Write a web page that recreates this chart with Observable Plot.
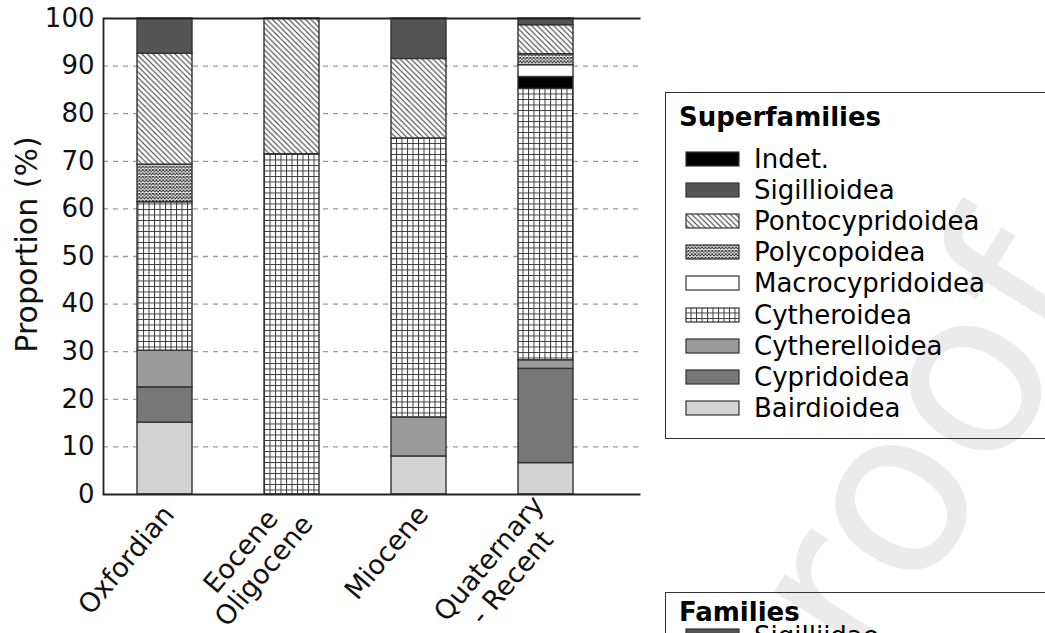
<!DOCTYPE html>
<html>
<head>
<meta charset="utf-8">
<script src="https://cdn.jsdelivr.net/npm/d3@7"></script>
<script src="https://cdn.jsdelivr.net/npm/@observablehq/plot@0.6"></script>
<style>
html, body { margin: 0; padding: 0; background: #fff; overflow: hidden; width: 1045px; height: 633px; }
#wrap { position: relative; width: 1045px; height: 633px; font-family: "DejaVu Sans", Verdana, sans-serif; overflow: hidden; }
#wm { position: absolute; left: 0; top: 0; z-index: 0; }
#chart { position: absolute; left: 0; top: 0; z-index: 1; }
.box { position: absolute; left: 665px; width: 420px; border: 1.5px solid #333; box-sizing: border-box; z-index: 2; }
.title { position: absolute; left: 13px; font-weight: bold; font-size: 26px; line-height: 32px; white-space: nowrap; }
.row { position: absolute; left: 0; height: 31px; width: 400px; }
.row svg { position: absolute; left: 19px; }
.row span { position: absolute; left: 88px; font-size: 26px; line-height: 31px; top: 0; white-space: nowrap; }
#defs { position: absolute; width: 0; height: 0; }
</style>
</head>
<body>
<div id="wrap">
<svg id="defs" width="0" height="0">
  <defs>
    <pattern id="pat-ponto" patternUnits="userSpaceOnUse" width="5.5" height="5.5">
      <rect width="5.5" height="5.5" fill="#fff"/>
      <path d="M-1,-1 L6.5,6.5 M-1,4.5 L1,6.5 M4.5,-1 L6.5,1" stroke="#333" stroke-width="1"/>
    </pattern>
    <pattern id="pat-grid" patternUnits="userSpaceOnUse" width="5.5" height="5.5">
      <rect width="5.5" height="5.5" fill="#fff"/>
      <path d="M0,0.5 L5.5,0.5 M0.5,0 L0.5,5.5" stroke="#3a3a3a" stroke-width="1"/>
    </pattern>
    <pattern id="pat-poly" patternUnits="userSpaceOnUse" width="3.4" height="3.4">
      <rect width="3.4" height="3.4" fill="#fff"/>
      <path d="M0,0 L3.4,3.4 M3.4,0 L0,3.4" stroke="#333" stroke-width="1"/>
    </pattern>
  </defs>
</svg>
<svg id="wm" width="1045" height="633"></svg>
<div id="chart"></div>
<div class="box" id="legend1" style="top:91.5px; height:347px;"></div>
<div class="box" id="legend2" style="top:592px; height:120px;"></div>
</div>
<script>
// ---- data ----
const categories = ["Oxfordian", "Eocene\nOligocene", "Miocene", "Quaternary\n- Recent"];
const superfamilies = ["Bairdioidea", "Cypridoidea", "Cytherelloidea", "Cytheroidea", "Indet.", "Macrocypridoidea", "Polycopoidea", "Pontocypridoidea", "Sigillioidea"];
const oxfordian        = [15.1, 7.4, 7.7, 31.2, 0,   0,   7.9, 23.3, 7.4];
const eoceneOligocene  = [0,    0,   0,   71.5, 0,   0,   0,   28.5, 0];
const miocene          = [8.0,  0,   8.2, 58.6, 0,   0,   0,   16.7, 8.5];
const quaternaryRecent = [6.6, 19.8, 1.8, 57.0, 2.5, 2.5, 2.3, 6.1,  1.4];
const yTicks = [0, 10, 20, 30, 40, 50, 60, 70, 80, 90, 100];
const legendOrder = ["Indet.", "Sigillioidea", "Pontocypridoidea", "Polycopoidea", "Macrocypridoidea", "Cytheroidea", "Cytherelloidea", "Cypridoidea", "Bairdioidea"];
const familiesTitle = "Families";
const familiesFirst = "Sigilliidae";

// ---- styles ----
const fillOf = {
  "Bairdioidea": "#d3d3d3",
  "Cypridoidea": "#777777",
  "Cytherelloidea": "#9b9b9b",
  "Cytheroidea": "url(#pat-grid)",
  "Indet.": "#000000",
  "Macrocypridoidea": "#ffffff",
  "Polycopoidea": "url(#pat-poly)",
  "Pontocypridoidea": "url(#pat-ponto)",
  "Sigillioidea": "#555555"
};
const FONT = '"DejaVu Sans", Verdana, sans-serif';

const columns = [oxfordian, eoceneOligocene, miocene, quaternaryRecent];
const table = [];
categories.forEach((c, i) => {
  superfamilies.forEach((s, j) => {
    const v = columns[i][j];
    if (v > 0) table.push({category: c, series: s, value: v});
  });
});

const W = 1045, H = 633, ML = 103, MR = 405, MT = 18, MB = 139;
const fw = W - ML - MR, fh = H - MT - MB;

// rotated, centre-aligned multi-line category labels
const ROT = -50, LH = 30, XFS = 27, AX = 4, AY = 15;
const rad = -ROT * Math.PI / 180;
const dir = [Math.cos(rad), -Math.sin(rad)];   // along text
const down = [Math.sin(rad), Math.cos(rad)];   // perpendicular, toward following lines
const ctx = document.createElement("canvas").getContext("2d");
ctx.font = `${XFS}px ${FONT}`;
const labelMarks = [];
categories.forEach(c => {
  const lines = c.split("\n");
  const wmax = Math.max(...lines.map(l => ctx.measureText(l).width));
  lines.forEach((l, i) => {
    const k = i - (lines.length - 1) / 2;
    const ox = AX - (wmax / 2) * dir[0] + k * LH * down[0];
    const oy = AY - (wmax / 2) * dir[1] + k * LH * down[1];
    labelMarks.push(Plot.text([c], {x: d => d, text: () => l, frameAnchor: "bottom", rotate: ROT, textAnchor: "middle", lineAnchor: "middle", dx: ox, dy: oy, fontSize: XFS}));
  });
});

const chart = Plot.plot({
  width: W, height: H,
  marginLeft: ML, marginRight: MR, marginTop: MT, marginBottom: MB,
  style: {fontFamily: FONT, fontSize: "26px", color: "#111", background: "transparent"},
  x: {type: "band", domain: categories, paddingInner: 0.568, paddingOuter: 0.393, align: 0.34, label: null, axis: null},
  y: {domain: [0, 100], label: null},
  color: {type: "ordinal", domain: superfamilies, range: superfamilies.map(s => fillOf[s])},
  marks: [
    Plot.gridY(yTicks.filter(t => t > 0 && t < 100), {stroke: "#9a9a9a", strokeOpacity: 1, strokeWidth: 1.3, strokeDasharray: "5,5"}),
    Plot.barY(table, Plot.stackY({x: "category", y: "value", z: "series", fill: "series", order: superfamilies, stroke: "#333", strokeWidth: 1.4})),
    Plot.frame({stroke: "#222", strokeWidth: 1.8, strokeDasharray: `${fw} ${fh} ${fw + fh}`}),
    Plot.axisY({ticks: yTicks, tickSize: 0, tickPadding: 9, fontSize: 26, label: null}),
    ...labelMarks,
    Plot.text(["Proportion (%)"], {frameAnchor: "left", dx: -76, dy: -12, rotate: -90, fontSize: 30, textAnchor: "middle", lineAnchor: "middle"})
  ]
});
document.getElementById("chart").appendChild(chart);

// ---- legend ----
const svgns = "http://www.w3.org/2000/svg";
function swatch(fill) {
  const s = document.createElementNS(svgns, "svg");
  s.setAttribute("width", 56); s.setAttribute("height", 17);
  const r = document.createElementNS(svgns, "rect");
  r.setAttribute("x", 1); r.setAttribute("y", 1); r.setAttribute("width", 53); r.setAttribute("height", 14);
  r.setAttribute("fill", fill); r.setAttribute("stroke", "#333"); r.setAttribute("stroke-width", 1.2);
  s.appendChild(r);
  return s;
}
function buildLegend(el, title, titleTop, names, firstCenter, step) {
  const t = document.createElement("div");
  t.className = "title"; t.textContent = title; t.style.top = titleTop + "px";
  el.appendChild(t);
  names.forEach((n, i) => {
    const c = firstCenter + i * step;
    const row = document.createElement("div");
    row.className = "row"; row.style.top = (c - 15.5) + "px";
    const sw = swatch(fillOf[n] || "#555555");
    sw.style.top = "7px";
    row.appendChild(sw);
    const sp = document.createElement("span"); sp.textContent = n;
    row.appendChild(sp);
    el.appendChild(row);
  });
}
buildLegend(document.getElementById("legend1"), "Superfamilies", 8, legendOrder, 67, 31.1);
buildLegend(document.getElementById("legend2"), familiesTitle, 3, [familiesFirst], 43, 31.1);

// ---- watermark ----
const wm = document.getElementById("wm");
const wt = document.createElementNS(svgns, "text");
wt.setAttribute("x", 1109); wt.setAttribute("y", 293);
wt.setAttribute("text-anchor", "end");
wt.setAttribute("transform", "rotate(-58 1109 293)");
wt.setAttribute("font-size", 230);
wt.setAttribute("font-family", FONT);
wt.setAttribute("fill", "#ebebeb");
wt.textContent = "Journal Pre-proof";
wm.appendChild(wt);
</script>
</body>
</html>
